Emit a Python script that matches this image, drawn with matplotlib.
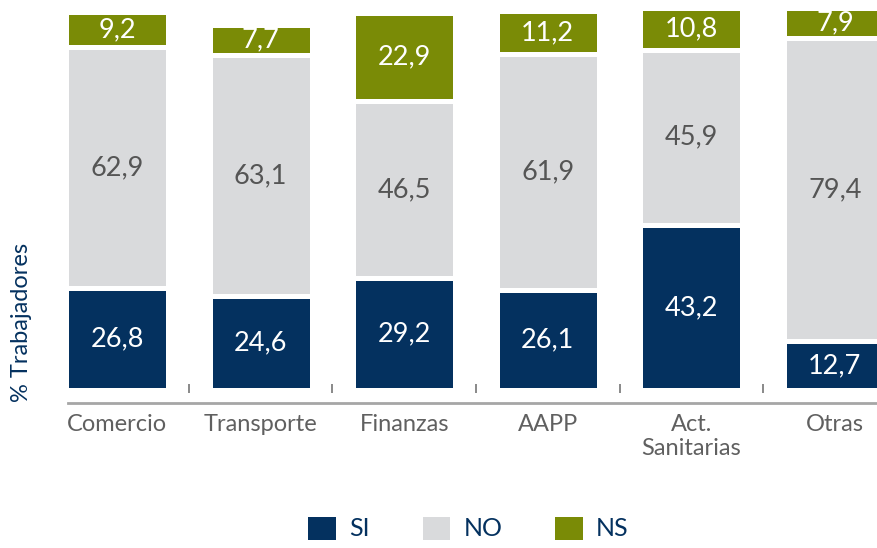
import numpy as np
import matplotlib.pyplot as plt

categorias = ["Comercio", "Transporte", "Finanzas", "AAPP", "Act.\nSanitarias", "Otras"]
si = [26.8, 24.6, 29.2, 26.1, 43.2, 12.7]
no = [62.9, 63.1, 46.5, 61.9, 45.9, 79.4]
ns = [9.2, 7.7, 22.9, 11.2, 10.8, 7.9]

c_si = "#04315f"
c_no = "#d9dadc"
c_ns = "#7a8b06"
gris = "#555555"

plt.rcParams['font.family'] = ['Lato', 'DejaVu Sans']

fig = plt.figure(figsize=(8.78, 5.48), dpi=100)
ax = fig.add_axes([68 / 878, 145 / 548, 810 / 878, 397 / 548])

x = np.arange(len(categorias))
si_a = np.array(si)
no_a = np.array(no)
ns_a = np.array(ns)
w = 0.71
ax.bar(x, si_a, w, color=c_si, edgecolor="white", linewidth=3.6, label="SI")
ax.bar(x, no_a, w, bottom=si_a, color=c_no, edgecolor="white", linewidth=3.6, label="NO")
ax.bar(x, ns_a, w, bottom=si_a + no_a, color=c_ns, edgecolor="white", linewidth=3.6, label="NS")

for i in range(len(x)):
    ax.text(x[i], si_a[i] / 2, f"{si[i]:.1f}".replace(".", ","), ha="center", va="center",
            color="white", fontsize=19.5)
    ax.text(x[i], si_a[i] + no_a[i] / 2, f"{no[i]:.1f}".replace(".", ","), ha="center",
            va="center", color=gris, fontsize=19.5)
    ax.text(x[i], si_a[i] + no_a[i] + ns_a[i] / 2, f"{ns[i]:.1f}".replace(".", ","),
            ha="center", va="center", color="white", fontsize=19.5)

# small separators between categories
ax.vlines(x[:-1] + 0.5, -0.8, 1.6, color="#808080", linewidth=1.3)

ax.set_xlim(-0.341, 5.30)
ax.set_ylim(-3.4, 100.5)
ax.set_xticks(x)
ax.set_xticklabels(categorias, color="#606060", fontsize=17, linespacing=1.15)
ax.tick_params(axis="x", length=0, pad=8)
ax.set_yticks([])
for s in ["top", "right", "left"]:
    ax.spines[s].set_visible(False)
ax.spines["bottom"].set_color("#a6a6a6")
ax.spines["bottom"].set_linewidth(2)

fig.text(22 / 878, 1 - 322 / 548, "% Trabajadores", rotation=90, ha="center", va="center",
         color=c_si, fontsize=17)

fig.legend(loc="center", bbox_to_anchor=(467 / 878, 1 - 528 / 548), ncol=3, frameon=False,
           fontsize=18, handlelength=1.3, handleheight=1.3, handletextpad=0.45,
           columnspacing=2.0, labelcolor=c_si)

fig.savefig("out.png", dpi=100)
